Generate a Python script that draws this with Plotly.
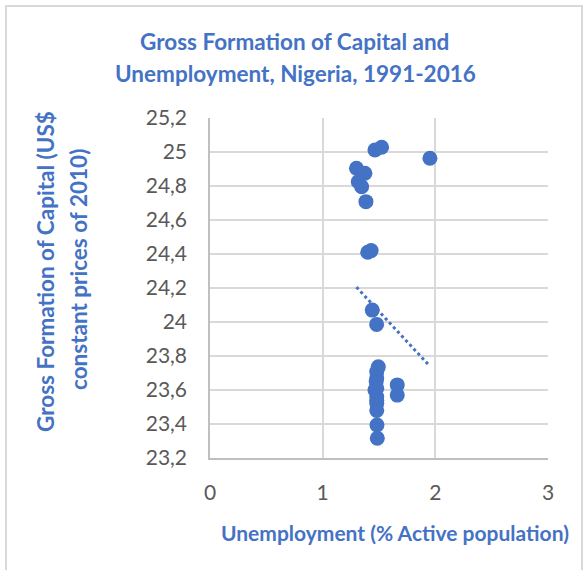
import numpy as np
import plotly.graph_objects as go

# Unemployment (% active population) vs gross capital formation, Nigeria 1991-2016
unemployment = [1.464, 1.523, 1.952, 1.300, 1.375, 1.316, 1.346, 1.384,
                1.400, 1.430, 1.440, 1.479,
                1.494, 1.480, 1.480, 1.475, 1.464, 1.480, 1.480, 1.480,
                1.480, 1.480, 1.482, 1.485, 1.662, 1.662]
capital = [25.012, 25.028, 24.963, 24.904, 24.875, 24.825, 24.796, 24.708,
           24.410, 24.420, 24.070, 23.986,
           23.737, 23.708, 23.670, 23.649, 23.600, 23.610, 23.560, 23.540,
           23.520, 23.480, 23.394, 23.316, 23.630, 23.570]

title_lines = ["Gross Formation of Capital and", "Unemployment, Nigeria, 1991-2016"]
ytitle_lines = ["Gross Formation of Capital (US$", "constant prices of 2010)"]
xtitle = "Unemployment (% Active population)"

BLUE = "#4472C4"
FONT = "Lato"
TSIZE = 22.5
XTSIZE = 21
TICKSIZE = 21

x = np.array(unemployment)
y = np.array(capital)
slope, intercept = np.polyfit(x, y, 1)
tx = np.array([x.min(), x.max()])
ty = slope * tx + intercept

fig = go.Figure()
fig.add_trace(go.Scatter(x=unemployment, y=capital, mode="markers",
                         marker=dict(color=BLUE, size=15, line=dict(width=0)),
                         showlegend=False, hoverinfo="x+y"))
fig.add_trace(go.Scatter(x=tx, y=ty, mode="lines",
                         line=dict(color=BLUE, width=3, dash="dot"),
                         showlegend=False, hoverinfo="skip"))

L, R, T, B = 210, 35, 118, 112
W, H = 583, 570
pw, ph = W - L - R, H - T - B

def px(xp):
    return (xp - L) / pw

def py(yp):
    return (H - B - yp) / ph

def label(text, xp, yp, angle=0, anchor="center", size=TSIZE):
    return dict(text=f"<b>{text}</b>", x=px(xp), y=py(yp), xref="paper", yref="paper",
                showarrow=False, xanchor=anchor, yanchor="middle", textangle=angle,
                font=dict(family=FONT, size=size, color=BLUE))

ann = [
    label(title_lines[0], 294, 42),
    label(title_lines[1], 295, 73),
    label(ytitle_lines[0], 45, 272, angle=-90),
    label(ytitle_lines[1], 78, 270, angle=-90),
    label(xtitle, 219, 532, anchor="left", size=XTSIZE),
]

fig.update_layout(
    width=W, height=H,
    margin=dict(l=L, r=R, t=T, b=B, pad=0),
    paper_bgcolor="white", plot_bgcolor="white",
    separators=",.",
    font=dict(family=FONT, size=TICKSIZE, color="#595959"),
    annotations=ann,
    shapes=[dict(type="rect", xref="paper", yref="paper",
                 x0=px(6), x1=px(582), y0=py(585), y1=py(6),
                 line=dict(color="#d9d9d9", width=2), layer="below")],
)
fig.update_xaxes(range=[0, 3], dtick=1, tick0=0, showgrid=True, gridcolor="#d9d9d9", gridwidth=1.5,
                 zeroline=False, showline=True, linecolor="#bfbfbf", linewidth=1.5,
                 ticks="", ticklabelstandoff=15, tickfont=dict(family=FONT, size=TICKSIZE, color="#595959"))
fig.update_yaxes(range=[23.2, 25.2], dtick=0.2, tick0=23.2, showgrid=True, gridcolor="#d9d9d9", gridwidth=1.5,
                 zeroline=False, showline=True, linecolor="#bfbfbf", linewidth=1.5,
                 ticks="", ticklabelstandoff=17, tickfont=dict(family=FONT, size=TICKSIZE, color="#595959"))

fig.write_html("out.html")
